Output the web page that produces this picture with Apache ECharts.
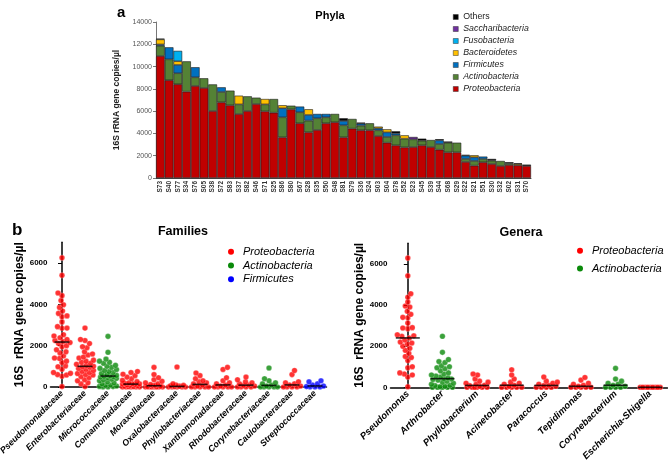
<!DOCTYPE html>
<html>
<head>
<meta charset="utf-8">
<script src="https://cdn.jsdelivr.net/npm/echarts@6.0.0/dist/echarts.min.js"></script>
<style>
  html, body { margin: 0; padding: 0; background: #fff; }
  #chart { width: 668px; height: 460px; }
</style>
</head>
<body>
<div id="chart"></div>
<script>
// ---- panel a: phyla per sample ----
const samples = ['S73','S40','S77','S34','S76','S05','S38','S72','S83','S37','S82','S46','S71','S25','S86','S80','S67','S28','S35','S50','S48',
  'S81','S79','S36','S24','S03','S04','S78','S52','S23','S45','S39','S44','S68','S29','S22','S21','S51','S30','S32','S02','S31','S70'];
const proteobacteria = [10950, 8770, 8410, 7750, 8260, 8080, 6010, 6790, 6520, 5740, 6010, 6640, 5980, 5860, 3650, 6160, 4910, 4100, 4310, 4910, 5000,
  3650, 4430, 4280, 4280, 3770, 3170, 2930, 2750, 2780, 2930, 2780, 2540, 2300, 2300, 1440, 1110, 1410, 1260, 1080, 1170, 1140, 1080];
const actinobacteria = [920, 1880, 990, 2720, 780, 870, 2390, 930, 1320, 870, 1320, 570, 630, 1230, 1800, 330, 990, 1050, 1050, 540, 750,
  1080, 870, 420, 630, 510, 510, 900, 780, 690, 420, 630, 510, 870, 870, 270, 420, 300, 300, 450, 150, 0, 0];
const firmicutes = [120, 1080, 750, 0, 900, 0, 0, 420, 0, 0, 0, 0, 0, 0, 810, 0, 510, 510, 390, 300, 0,
  390, 0, 180, 0, 180, 420, 180, 0, 0, 0, 0, 330, 0, 0, 300, 330, 210, 0, 0, 0, 0, 0];
const bacteroidetes = [450, 0, 330, 0, 0, 0, 0, 0, 0, 780, 0, 0, 480, 0, 270, 0, 0, 510, 0, 0, 0,
  0, 0, 0, 0, 150, 270, 0, 300, 0, 0, 0, 0, 0, 0, 0, 180, 0, 0, 0, 0, 120, 0];
const fusobacteria = [60, 0, 930, 0, 0, 0, 0, 0, 0, 0, 0, 0, 0, 0, 0, 0, 0, 0, 0, 0, 0,
  0, 0, 0, 0, 0, 0, 0, 0, 0, 0, 0, 0, 0, 0, 0, 0, 0, 0, 0, 0, 0, 0];
const saccharibacteria = [0, 0, 0, 0, 0, 0, 0, 0, 0, 0, 0, 0, 0, 0, 0, 0, 0, 0, 0, 0, 0,
  0, 0, 0, 0, 0, 0, 0, 0, 210, 0, 0, 0, 0, 0, 0, 0, 0, 0, 0, 0, 0, 0];
const others = [0, 0, 0, 0, 0, 0, 0, 0, 0, 0, 0, 0, 0, 0, 0, 0, 0, 0, 0, 0, 0,
  240, 0, 90, 0, 0, 0, 180, 0, 0, 180, 0, 100, 100, 0, 60, 0, 0, 150, 0, 90, 60, 120];

// ---- panel b: families ----
const familyNames = ['Pseudomonadaceae','Enterobacteriaceae','Micrococcaceae','Comamonadaceae','Moraxellaceae','Oxalobacteraceae',
  'Phyllobacteriaceae','Xanthomonadaceae','Rhodobacteraceae','Corynebacteriaceae','Caulobacteraceae','Streptococcaceae'];
const familyPhylum = ['Proteobacteria','Proteobacteria','Actinobacteria','Proteobacteria','Proteobacteria','Proteobacteria',
  'Proteobacteria','Proteobacteria','Proteobacteria','Actinobacteria','Proteobacteria','Firmicutes'];
const pseudomonadaceae = [6250, 5400, 4550, 4420, 4180, 3980, 3850, 3680, 3560, 3440, 3400, 3150, 2920, 2850, 2840, 2530, 2470, 2380, 2300, 2250,
  2200, 2150, 2100, 2000, 1950, 1800, 1700, 1650, 1500, 1400, 1380, 1250, 1180, 1020, 980, 860, 700, 660, 600, 580, 520, 20];
const enterobacteriaceae = [2850, 2300, 2250, 2100, 1950, 1900, 1700, 1600, 1550, 1450, 1400, 1300, 1250, 1200, 1150, 1100, 1050, 1000,
  980, 950, 900, 850, 800, 750, 700, 650, 600, 580, 500, 450, 350, 300, 200, 150, 20];
const micrococcaceae = [2450, 1680, 1350, 1250, 1200, 1150, 1050, 1000, 950, 900, 850, 800, 750, 700, 650, 600, 560, 540,
  520, 500, 480, 450, 420, 380, 350, 300, 250, 200, 150, 100, 80, 50, 30, 20, 0, 0];
const comamonadaceae = [750, 700, 620, 550, 480, 400, 320, 260, 200, 180, 160, 150, 140, 120, 100, 80, 60, 40, 20, 10, 0, 0, 0, 0, 0];
const moraxellaceae = [950, 600, 450, 350, 280, 200, 150, 120, 80, 60, 40, 20, 0, 0, 0, 0, 0, 0, 0];
const oxalobacteraceae = [970, 150, 100, 80, 60, 40, 20, 0, 0, 0, 0, 0];
const phyllobacteriaceae = [680, 550, 400, 300, 250, 200, 150, 100, 50, 0, 0, 0, 0, 0];
const xanthomonadaceae = [950, 850, 450, 300, 200, 150, 100, 50, 0, 0, 0, 0, 0];
const rhodobacteraceae = [480, 350, 250, 200, 150, 100, 80, 50, 0, 0, 0, 0];
const corynebacteriaceae = [920, 400, 300, 200, 150, 100, 50, 0, 0, 0, 0, 0];
const caulobacteraceae = [800, 600, 250, 200, 150, 100, 50, 0, 0, 0, 0];
const streptococcaceae = [300, 250, 150, 100, 50, 20, 0, 0, 0];

// ---- panel b: genera ----
const genusNames = ['Pseudomonas','Arthrobacter','Phyllobacterium','Acinetobacter','Paracoccus','Tepidimonas','Corynebacterium','Escherichia-Shigella'];
const genusPhylum = ['Proteobacteria','Actinobacteria','Proteobacteria','Proteobacteria','Proteobacteria','Proteobacteria','Actinobacteria','Proteobacteria'];
const pseudomonas = [6280, 5420, 4550, 4380, 4150, 3950, 3900, 3700, 3550, 3400, 3380, 3120, 2900, 2880, 2850, 2550, 2500, 2480, 2400, 2300,
  2200, 2150, 2100, 2000, 1900, 1800, 1650, 1500, 1450, 1300, 1000, 950, 700, 650, 600, 500, 30];
const arthrobacter = [2480, 1700, 1350, 1250, 1200, 1050, 1000, 950, 900, 800, 700, 650, 600, 550, 500, 450,
  420, 400, 380, 350, 300, 250, 200, 150, 100, 80, 50, 30, 0, 0, 0, 0, 0];
const phyllobacterium = [650, 600, 400, 300, 250, 200, 150, 100, 80, 50, 0, 0, 0, 0, 0, 0];
const acinetobacter = [850, 600, 400, 250, 200, 150, 100, 50, 0, 0, 0, 0, 0];
const paracoccus = [500, 300, 250, 200, 150, 100, 80, 50, 0, 0, 0, 0];
const tepidimonas = [480, 350, 200, 150, 100, 50, 0, 0, 0, 0, 0];
const corynebacterium = [920, 400, 300, 200, 150, 100, 50, 0, 0, 0, 0];
const escherichiaShigella = [0, 0, 0, 0, 0, 0, 0, 0, 0];

const familyValues = [pseudomonadaceae, enterobacteriaceae, micrococcaceae, comamonadaceae, moraxellaceae, oxalobacteraceae,
  phyllobacteriaceae, xanthomonadaceae, rhodobacteraceae, corynebacteriaceae, caulobacteraceae, streptococcaceae];
const genusValues = [pseudomonas, arthrobacter, phyllobacterium, acinetobacter, paracoccus, tepidimonas, corynebacterium, escherichiaShigella];

const FONT = '"Liberation Sans", Arial, sans-serif';
const barColors = {
  Proteobacteria: '#C00000', Actinobacteria: '#548235', Firmicutes: '#0070C0', Bacteroidetes: '#FFC000',
  Fusobacteria: '#00B0F0', Saccharibacteria: '#7030A0', Others: '#000000'
};
const dotColors = { Proteobacteria: '#ff0000', Actinobacteria: '#0a8a0a', Firmicutes: '#0000ff' };

// bee swarm: spread points sideways (in pixels) so they do not overlap too much
function swarm(values, yScale, diam, halfWidth) {
  const pts = [];
  const order = values.slice().sort((a, b) => a - b);
  order.forEach((v) => {
    const y = v * yScale;
    const flip = pts.length % 2 ? -1 : 1;
    const cands = [0];
    for (let k = 0.5; k <= halfWidth; k += 0.5) cands.push(k * flip, -k * flip);
    let best = 0, bestScore = -Infinity;
    for (const c of cands) {
      let minD = Infinity;
      pts.forEach((p) => {
        const dy = p.y - y;
        if (Math.abs(dy) < diam) minD = Math.min(minD, Math.hypot(p.x - c, dy));
      });
      if (minD >= diam) { best = c; break; }
      if (minD > bestScore) { bestScore = minD; best = c; }
    }
    pts.push({ x: best, y: y, v: v });
  });
  return pts;
}

function median(arr) {
  const s = arr.slice().sort((a, b) => a - b);
  const m = Math.floor(s.length / 2);
  return s.length % 2 ? s[m] : (s[m - 1] + s[m]) / 2;
}

function swarmSeries(groups, phyla, catPx, yScale, xAxisIndex, yAxisIndex, lineWidth, halfWidth) {
  const byPhylum = {};
  groups.forEach((vals, i) => {
    const ph = phyla[i];
    byPhylum[ph] = byPhylum[ph] || [];
    swarm(vals, yScale, 4.6, halfWidth).forEach((p) => byPhylum[ph].push([i + p.x / catPx, p.v]));
  });
  const out = Object.keys(byPhylum).map((ph) => ({
    name: ph,
    type: 'scatter',
    xAxisIndex: xAxisIndex,
    yAxisIndex: yAxisIndex,
    symbolSize: 5.6,
    itemStyle: { color: dotColors[ph], borderColor: 'rgba(255,255,255,0.55)', borderWidth: 0.6 },
    data: byPhylum[ph],
    silent: true
  }));
  out.push({
    type: 'scatter',
    xAxisIndex: xAxisIndex,
    yAxisIndex: yAxisIndex,
    symbol: 'rect',
    symbolSize: [lineWidth, 1.6],
    itemStyle: { color: '#000' },
    z: 10,
    silent: true,
    data: groups.map((vals, i) => [i, median(vals)])
  });
  return out;
}

const phylaOrder = ['Proteobacteria','Actinobacteria','Firmicutes','Bacteroidetes','Fusobacteria','Saccharibacteria','Others'];
const phylaData = { Proteobacteria: proteobacteria, Actinobacteria: actinobacteria, Firmicutes: firmicutes, Bacteroidetes: bacteroidetes,
  Fusobacteria: fusobacteria, Saccharibacteria: saccharibacteria, Others: others };

const barSeries = phylaOrder.map((name) => ({
  name: name,
  type: 'bar',
  stack: 'phyla',
  xAxisIndex: 0,
  yAxisIndex: 0,
  barCategoryGap: 0,
  itemStyle: { color: barColors[name], borderColor: '#1a1a1a', borderWidth: 0.6 },
  data: phylaData[name].map((v) => (v > 0 ? v : '-'))
}));

const plainNum = (v) => String(v);
const bottomTicks = [0, 2000, 4000, 6000];

const bottomY = (grid) => ({
  type: 'value', gridIndex: grid, min: 0, max: 7000, interval: 1000,
  name: '16S  rRNA gene copies/µl', nameLocation: 'middle', nameGap: 25,
  nameTextStyle: { fontFamily: FONT, fontSize: 12, fontWeight: 'bold', color: '#000' },
  axisLine: { show: true, lineStyle: { color: '#000', width: 1.5 } },
  axisTick: { show: true, length: 4, lineStyle: { color: '#000', width: 1 }, customValues: bottomTicks },
  axisLabel: { fontFamily: FONT, fontSize: 8, fontWeight: 'bold', color: '#000', margin: 3, customValues: bottomTicks, formatter: plainNum },
  splitLine: { show: false }
});

const bottomX = (grid, names, size) => ({
  type: 'category', gridIndex: grid, data: names, boundaryGap: true,
  axisLine: { show: true, lineStyle: { color: '#000', width: 1.5 } },
  axisTick: { show: false },
  axisLabel: { interval: 0, rotate: 45, fontFamily: FONT, fontSize: size, fontWeight: 'bold', fontStyle: 'italic', color: '#000', margin: 5 }
});

const legendItem = (name, color) => ({ name: name, icon: 'circle', itemStyle: { color: color, borderWidth: 0 } });

const option = {
  animation: false,
  backgroundColor: '#fff',
  textStyle: { fontFamily: FONT },
  title: [
    { text: 'a', left: 112, top: 0, textStyle: { fontFamily: FONT, fontSize: 15, fontWeight: 'bold', color: '#000' } },
    { text: 'Phyla', left: 325, top: 5, textAlign: 'center', textStyle: { fontFamily: FONT, fontSize: 11, fontWeight: 'bold', color: '#000' } },
    { text: 'b', left: 7, top: 217, textStyle: { fontFamily: FONT, fontSize: 17, fontWeight: 'bold', color: '#000' } },
    { text: 'Families', left: 178, top: 220, textAlign: 'center', textStyle: { fontFamily: FONT, fontSize: 12.5, fontWeight: 'bold', color: '#000' } },
    { text: 'Genera', left: 516, top: 221, textAlign: 'center', textStyle: { fontFamily: FONT, fontSize: 12.5, fontWeight: 'bold', color: '#000' } }
  ],
  legend: [
    {
      orient: 'vertical', left: 453, top: 11, padding: 0, itemWidth: 5, itemHeight: 5, itemGap: 0,
      textStyle: { fontFamily: FONT, fontSize: 8.8, fontStyle: 'italic', color: '#222', lineHeight: 12 },
      data: phylaOrder.slice().reverse().map((n) => ({
        name: n, icon: 'rect',
        itemStyle: { color: barColors[n], borderColor: '#333', borderWidth: 0.5 },
        textStyle: n === 'Others' ? { fontStyle: 'normal' } : undefined
      })),
      selectedMode: false
    },
    {
      orient: 'vertical', left: 228, top: 245, padding: 0, itemWidth: 6, itemHeight: 6, itemGap: 0,
      textStyle: { fontFamily: FONT, fontSize: 11, fontStyle: 'italic', color: '#000', lineHeight: 13.7, padding: [0, 0, 0, 4] },
      data: [legendItem('Proteobacteria', dotColors.Proteobacteria),
             legendItem('Actinobacteria', dotColors.Actinobacteria),
             legendItem('Firmicutes', dotColors.Firmicutes)],
      selectedMode: false
    },
    {
      orient: 'vertical', left: 577, top: 244, padding: 0, itemWidth: 6, itemHeight: 6, itemGap: 4,
      textStyle: { fontFamily: FONT, fontSize: 11, fontStyle: 'italic', color: '#000', lineHeight: 13.7, padding: [0, 0, 0, 4] },
      data: [legendItem('Proteobacteria', dotColors.Proteobacteria),
             legendItem('Actinobacteria', dotColors.Actinobacteria)],
      selectedMode: false
    }
  ],
  grid: [
    { left: 156, top: 22, width: 375, height: 156, outerBoundsMode: 'none', containLabel: false },
    { left: 50.5, top: 242.3, width: 276, height: 144.7, outerBoundsMode: 'none', containLabel: false },
    { left: 390.5, top: 243.3, width: 277, height: 144, outerBoundsMode: 'none', containLabel: false }
  ],
  xAxis: [
    {
      type: 'category', gridIndex: 0, data: samples,
      axisLine: { show: true, lineStyle: { color: '#444', width: 1 } },
      axisTick: { show: false },
      axisLabel: { interval: 0, rotate: 90, fontFamily: FONT, fontSize: 6.5, fontWeight: 'bold', color: '#333', margin: 3 }
    },
    bottomX(1, familyNames, 8.8),
    { type: 'value', gridIndex: 1, min: -0.5, max: familyNames.length - 0.5, show: false },
    bottomX(2, genusNames, 9.5),
    { type: 'value', gridIndex: 2, min: -0.5, max: genusNames.length - 0.5, show: false }
  ],
  yAxis: [
    {
      type: 'value', gridIndex: 0, min: 0, max: 14000, interval: 2000,
      name: '16S rRNA gene copies/µl', nameLocation: 'middle', nameGap: 27,
      nameTextStyle: { fontFamily: FONT, fontSize: 8.5, fontWeight: 'bold', color: '#222' },
      axisLine: { show: true, lineStyle: { color: '#777', width: 1 } },
      axisTick: { show: true, length: 3, lineStyle: { color: '#777' } },
      axisLabel: { fontFamily: FONT, fontSize: 7, color: '#555', margin: 4, formatter: plainNum },
      splitLine: { show: false }
    },
    bottomY(1),
    bottomY(2)
  ],
  series: barSeries
    .concat(swarmSeries(familyValues, familyPhylum, 23, 144.7 / 7000, 2, 1, 15, 8.5))
    .concat(swarmSeries(genusValues, genusPhylum, 277 / 8, 144 / 7000, 4, 2, 24, 11))
};

const chart = echarts.init(document.getElementById('chart'));
chart.setOption(option);
</script>
</body>
</html>
